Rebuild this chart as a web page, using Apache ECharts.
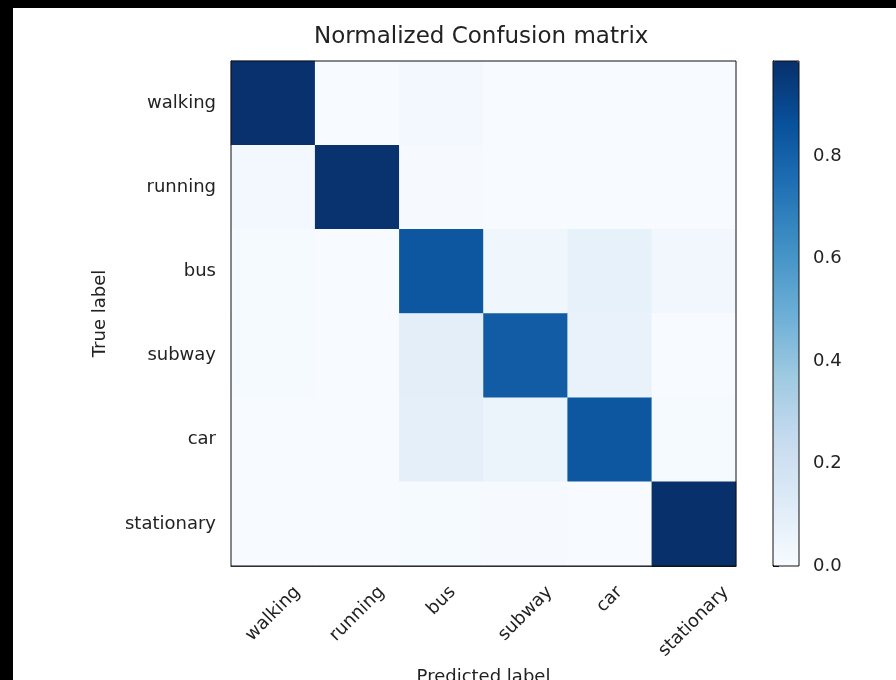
<!DOCTYPE html>
<html>
<head>
<meta charset="utf-8">
<script src="https://cdn.jsdelivr.net/npm/echarts@6/dist/echarts.min.js"></script>
<style>
html,body{margin:0;padding:0;background:#fff;}
#chart{position:absolute;left:0;top:0;width:896px;height:680px;}
.blk{position:absolute;background:#000;z-index:10;}
</style>
</head>
<body>
<div id="chart"></div>
<div class="blk" style="left:0;top:0;width:13px;height:680px;"></div>
<div class="blk" style="left:0;top:0;width:896px;height:8px;"></div>
<script>
// ---- data ----
const categories = ['walking', 'running', 'bus', 'subway', 'car', 'stationary'];
const rowWalking    = [0.98,  0.00, 0.02, 0.00, 0.00, 0.00];
const rowRunning    = [0.02,  0.975, 0.005, 0.00, 0.00, 0.00];
const rowBus        = [0.01,  0.00, 0.84, 0.04, 0.08, 0.03];
const rowSubway     = [0.01,  0.00, 0.10, 0.82, 0.07, 0.00];
const rowCar        = [0.00,  0.00, 0.09, 0.06, 0.84, 0.01];
const rowStationary = [0.00,  0.00, 0.01, 0.005, 0.00, 0.985];
const colorbarTicks = [0, 0.2, 0.4, 0.6, 0.8];
const blues = ['#f7fbff', '#deebf7', '#c6dbef', '#9ecae1', '#6baed6', '#4292c6', '#2171b5', '#08519c', '#08306b'];

const rows = [rowWalking, rowRunning, rowBus, rowSubway, rowCar, rowStationary];
const heatData = [];
rows.forEach((r, i) => r.forEach((v, j) => heatData.push([j, i, v])));
const vmax = Math.max(...heatData.map(d => d[2]));

// ---- label layout helpers (matplotlib-like centred rotated labels) ----
const FONT = '"DejaVu Sans", sans-serif';
const TXT = '#222';
const cnv = document.createElement('canvas').getContext('2d');
cnv.font = '18px DejaVu Sans';
const widths = categories.map(c => cnv.measureText(c).width);
const minW = Math.min(...widths);
const rich = {};
categories.forEach((c, i) => {
  const dy = 0.354 * (widths[i] - minW);
  const p = 1.414 * dy;
  rich['c' + i] = { fontSize: 18, fontFamily: FONT, color: TXT, padding: [p, p, 0, 0] };
});
const xMargin = 17 + 0.354 * (minW + 18);

const chart = echarts.init(document.getElementById('chart'), null, { renderer: 'canvas' });
chart.setOption({
  backgroundColor: '#fff',
  animation: false,
  title: {
    text: 'Normalized Confusion matrix',
    left: 309, top: 21,
    textStyle: { fontFamily: FONT, fontSize: 23, fontWeight: 'normal', color: TXT }
  },
  grid: [
    { left: 231, top: 61, width: 505, height: 505, show: true, borderColor: '#111', borderWidth: 1, backgroundColor: 'transparent', z: 10, outerBoundsMode: 'none', containLabel: false },
    { left: 773, top: 61, width: 26, height: 505, show: true, borderColor: '#111', borderWidth: 1, backgroundColor: 'transparent', z: 10, outerBoundsMode: 'none', containLabel: false }
  ],
  xAxis: [
    {
      type: 'category', data: categories, gridIndex: 0,
      name: 'Predicted label', nameLocation: 'middle', nameGap: 102,
      nameTextStyle: { fontFamily: FONT, fontSize: 18, color: TXT },
      axisLine: { lineStyle: { color: '#111' } },
      axisTick: { alignWithLabel: true, length: 6, lineStyle: { color: '#111' } },
      axisLabel: {
        rotate: 45, align: 'center', verticalAlign: 'middle', margin: xMargin,
        formatter: (v) => '{c' + categories.indexOf(v) + '|' + v + '}',
        rich: rich, interval: 0
      },
      splitLine: { show: false }
    },
    { type: 'value', gridIndex: 1, show: false, min: 0, max: 1 }
  ],
  yAxis: [
    {
      type: 'category', data: categories, gridIndex: 0, inverse: true,
      name: 'True label', nameLocation: 'middle', nameGap: 122, nameRotate: 90,
      nameTextStyle: { fontFamily: FONT, fontSize: 18, color: TXT },
      axisLine: { lineStyle: { color: '#111' } },
      axisTick: { alignWithLabel: true, length: 6, lineStyle: { color: '#111' } },
      axisLabel: { fontFamily: FONT, fontSize: 18, color: TXT, margin: 15, interval: 0 },
      splitLine: { show: false }
    },
    {
      type: 'value', gridIndex: 1, position: 'right', min: 0, max: vmax,
      axisLine: { show: true, lineStyle: { color: '#111' } },
      axisTick: { show: true, length: 6, customValues: colorbarTicks, lineStyle: { color: '#111' } },
      axisLabel: { fontFamily: FONT, fontSize: 18, color: TXT, margin: 14, customValues: colorbarTicks, formatter: (v) => v.toFixed(1) },
      splitLine: { show: false }
    }
  ],
  visualMap: {
    type: 'continuous', min: 0, max: vmax, seriesIndex: 0,
    orient: 'vertical', left: 773, top: 61, itemWidth: 26, itemHeight: 505,
    padding: 0, calculable: false, realtime: false, hoverLink: false,
    text: null, showLabel: false,
    inRange: { color: blues }
  },
  series: [
    {
      type: 'heatmap', xAxisIndex: 0, yAxisIndex: 0, data: heatData,
      itemStyle: { borderWidth: 0 },
      emphasis: { disabled: true }
    },
    { type: 'line', xAxisIndex: 1, yAxisIndex: 1, data: [], silent: true }
  ]
});
</script>
</body>
</html>
